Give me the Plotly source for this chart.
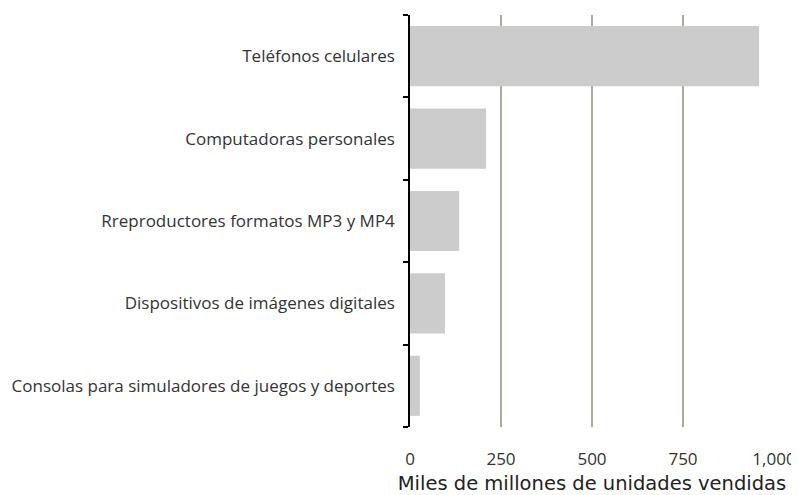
import plotly.graph_objects as go

categories = [
    "Teléfonos celulares",
    "Computadoras personales",
    "Rreproductores formatos MP3 y MP4",
    "Dispositivos de imágenes digitales",
    "Consolas para simuladores de juegos y deportes",
]
values = [959, 209, 135, 96, 27]
x_ticks = [0, 250, 500, 750, 1000]
x_tick_labels = ["0", "250", "500", "750", "1,000"]
x_title = "Miles de millones de unidades vendidas"

FONT = "Open Sans, sans-serif"
TITLE_FONT = "DejaVu Sans, sans-serif"

fig = go.Figure(
    go.Bar(
        x=values,
        y=categories,
        orientation="h",
        marker=dict(color="#cccccc", line=dict(width=0)),
        width=0.73,
    )
)

# page body has an 8px margin, so the figure is sized to fit inside the window
fig.update_layout(
    width=791,
    height=487,
    margin=dict(l=402, r=25, t=7, b=68),
    plot_bgcolor="white",
    paper_bgcolor="white",
    showlegend=False,
    font=dict(family=FONT, color="#333333"),
)

fig.update_xaxes(
    range=[0, 1000],
    automargin=False,
    tickvals=x_ticks,
    ticktext=x_tick_labels,
    showgrid=True,
    gridcolor="#a9ad99",
    gridwidth=1.5,
    zeroline=False,
    showline=False,
    ticks="outside",
    ticklen=17,
    tickcolor="rgba(0,0,0,0)",
    tickfont=dict(size=17, family=FONT, color="#333333"),
    title=dict(text=x_title, font=dict(size=19.5, family=TITLE_FONT, color="#222222"), standoff=12),
)

fig.update_yaxes(
    categoryorder="array",
    categoryarray=categories[::-1],
    automargin=False,
    showline=True,
    linecolor="black",
    linewidth=1.5,
    ticks="outside",
    tickson="boundaries",
    ticklen=5,
    tickwidth=1.5,
    tickcolor="black",
    ticklabelstandoff=10,
    tickfont=dict(size=17, family=FONT, color="#333333"),
    showgrid=False,
)

fig.write_html("out.html")
